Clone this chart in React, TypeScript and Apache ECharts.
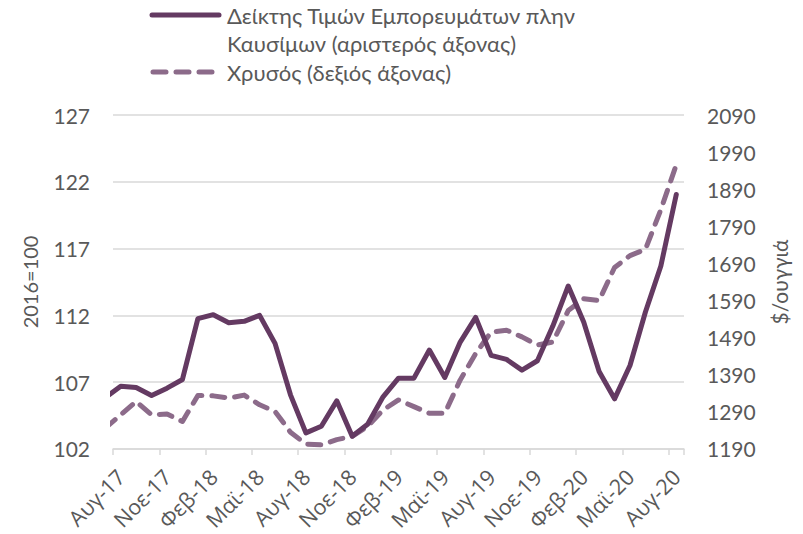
import React, { useEffect, useRef } from "react";
import * as echarts from "echarts";

const months: string[] = [
  "Ιουλ-17", "Αυγ-17", "Σεπ-17", "Οκτ-17", "Νοε-17", "Δεκ-17",
  "Ιαν-18", "Φεβ-18", "Μαρ-18", "Απρ-18", "Μαϊ-18", "Ιουν-18",
  "Ιουλ-18", "Αυγ-18", "Σεπ-18", "Οκτ-18", "Νοε-18", "Δεκ-18",
  "Ιαν-19", "Φεβ-19", "Μαρ-19", "Απρ-19", "Μαϊ-19", "Ιουν-19",
  "Ιουλ-19", "Αυγ-19", "Σεπ-19", "Οκτ-19", "Νοε-19", "Δεκ-19",
  "Ιαν-20", "Φεβ-20", "Μαρ-20", "Απρ-20", "Μαϊ-20", "Ιουν-20",
  "Ιουλ-20", "Αυγ-20",
];

const commodityIndex: number[] = [
  105.85, 106.7, 106.6, 106.0, 106.55, 107.2,
  111.75, 112.05, 111.45, 111.55, 112.0, 109.9,
  106.05, 103.2, 103.7, 105.6, 102.95, 103.85,
  105.9, 107.3, 107.3, 109.4, 107.35, 110.0,
  111.85, 109.0, 108.7, 107.9, 108.6, 111.2,
  114.2, 111.5, 107.8, 105.75, 108.25, 112.25,
  115.7, 121.05,
];

const goldPrice: number[] = [
  1246, 1282, 1318, 1282, 1284, 1264,
  1334, 1333, 1327, 1335, 1309, 1291,
  1235, 1203, 1201, 1215, 1224, 1251,
  1295, 1322, 1304, 1286, 1286, 1376,
  1447, 1505, 1510, 1492, 1470, 1478,
  1563, 1595, 1590, 1679, 1711, 1728,
  1835, 1956,
];

const seriesNames = [
  "Δείκτης Τιμών Εμπορευμάτων πλην Καυσίμων (αριστερός άξονας)",
  "Χρυσός (δεξιός άξονας)",
];
const legendLines1 = ["Δείκτης Τιμών Εμπορευμάτων πλην", "Καυσίμων (αριστερός άξονας)"];
const legendLine2 = "Χρυσός (δεξιός άξονας)";

const solidColor = "#643A62";
const dashColor = "#8C6B8A";
const textColor = "#595959";
const gridColor = "#D9D9D9";
const FONT = "Lato";
const XFONT = "Open Sans";

export default function App() {
  const ref = useRef<HTMLDivElement>(null);
  useEffect(() => {
    document.body.style.margin = "0";
    if (!ref.current) return;
    const chart = echarts.init(ref.current, undefined, { renderer: "svg" });
    const labelFn = (index: number) => index % 3 === 1;
    chart.setOption({
      animation: false,
      textStyle: { fontFamily: FONT },
      grid: { left: 113, right: 119, top: 115, bottom: 83, containLabel: false },
      xAxis: {
        type: "category",
        data: months,
        min: 1,
        boundaryGap: true,
        axisLine: { lineStyle: { color: gridColor, width: 1.5 } },
        axisTick: { show: true, interval: labelFn, length: 6, lineStyle: { color: gridColor, width: 1.5 } },
        axisLabel: {
          interval: labelFn,
          rotate: 45,
          fontSize: 21.5,
          color: textColor,
          fontFamily: XFONT,
          margin: 24,
        },
        splitLine: { show: false },
      },
      yAxis: [
        {
          type: "value",
          position: "left",
          min: 102,
          max: 127,
          interval: 5,
          name: "2016=100",
          nameLocation: "middle",
          nameGap: 73,
          nameTextStyle: { fontSize: 20, color: textColor, fontFamily: FONT },
          axisLabel: { fontSize: 21, color: textColor, margin: 23, fontFamily: FONT },
          axisLine: { show: false },
          axisTick: { show: false },
          splitLine: { lineStyle: { color: gridColor, width: 1.5 } },
        },
        {
          type: "value",
          position: "right",
          min: 1190,
          max: 2090,
          interval: 100,
          name: "$/ουγγιά",
          nameLocation: "middle",
          nameGap: 85,
          nameTextStyle: { fontSize: 21, color: textColor, fontFamily: FONT },
          axisLabel: {
            fontSize: 21,
            color: textColor,
            margin: 23,
            fontFamily: FONT,
            formatter: (v: number) => String(v),
          },
          axisLine: { show: false },
          axisTick: { show: false },
          splitLine: { show: false },
        },
      ],
      series: [
        {
          name: seriesNames[0],
          type: "line",
          yAxisIndex: 0,
          data: commodityIndex,
          showSymbol: false,
          symbol: "none",
          clip: true,
          lineStyle: { color: solidColor, width: 5, cap: "round", join: "round" },
          itemStyle: { color: solidColor },
          z: 3,
        },
        {
          name: seriesNames[1],
          type: "line",
          yAxisIndex: 1,
          data: goldPrice,
          showSymbol: false,
          symbol: "none",
          clip: true,
          lineStyle: { color: dashColor, width: 5, type: [13, 10], cap: "round", join: "round" },
          itemStyle: { color: dashColor },
          z: 2,
        },
      ],
      graphic: [
        {
          type: "line",
          shape: { x1: 152, y1: 15, x2: 219, y2: 15 },
          style: { stroke: solidColor, lineWidth: 5, lineCap: "round" },
        },
        {
          type: "text",
          x: 227,
          y: 15,
          style: { text: legendLines1[0], fill: textColor, fontSize: 22, fontFamily: FONT, verticalAlign: "middle" },
        },
        {
          type: "text",
          x: 227,
          y: 43.5,
          style: { text: legendLines1[1], fill: textColor, fontSize: 22, fontFamily: FONT, verticalAlign: "middle" },
        },
        {
          type: "line",
          shape: { x1: 153, y1: 72, x2: 213, y2: 72 },
          style: { stroke: dashColor, lineWidth: 5, lineCap: "round", lineDash: [13, 10] },
        },
        {
          type: "text",
          x: 227,
          y: 72,
          style: { text: legendLine2, fill: textColor, fontSize: 22, fontFamily: FONT, verticalAlign: "middle" },
        },
      ],
    });
    return () => chart.dispose();
  }, []);
  return <div ref={ref} style={{ width: 803, height: 534 }} />;
}
